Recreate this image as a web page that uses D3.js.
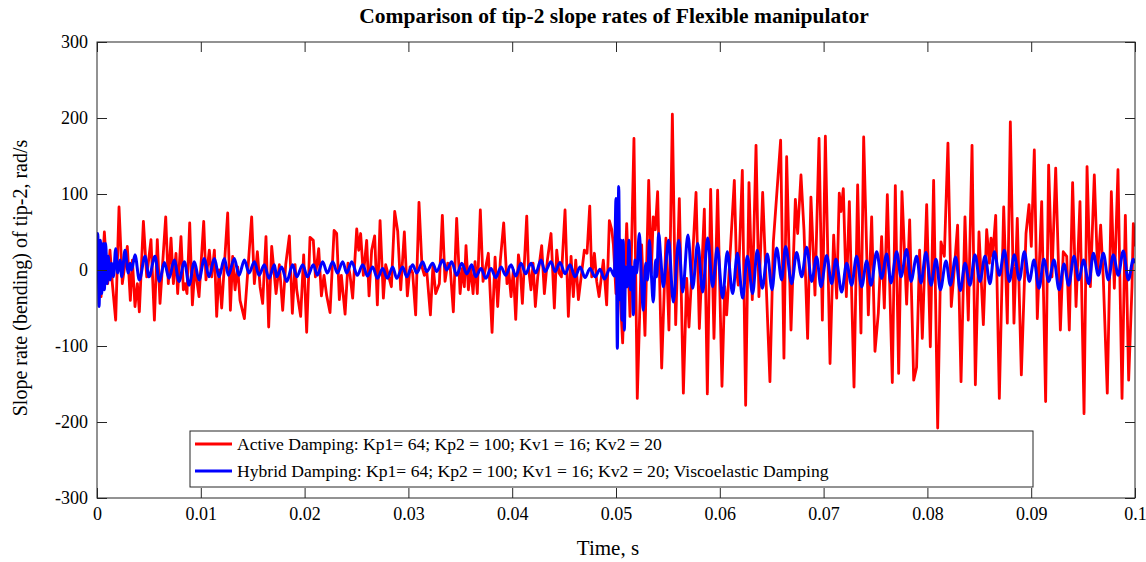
<!DOCTYPE html>
<html>
<head>
<meta charset="utf-8">
<script src="https://cdn.jsdelivr.net/npm/d3@7"></script>
<style>
  html, body { margin: 0; padding: 0; background: #fff; }
  svg { display: block; }
  text { font-family: "Liberation Serif", "Times New Roman", serif; fill: #000; }
</style>
</head>
<body>
<svg id="chart" width="1146" height="562"></svg>
<script>
// Tip-2 slope rate traces: [time in ms, slope rate in rad/s]
const activeDamping = [
  [0,5],[0.39,-35],[0.71,50],[1.03,-18],[1.25,26],[1.48,-18],[1.80,-66],[2.12,83],[2.44,-18],[2.92,31],
  [3.21,-40],[3.41,13],[3.66,-48],[3.89,-18],[4.08,-55],[4.47,64],[4.79,-9],[5.20,40],[5.53,-66],[5.81,40],
  [6.07,-44],[6.62,70],[6.87,-18],[7.13,42],[7.36,-18],[7.61,22],[7.77,-31],[8.09,44],[8.32,-26],[8.48,-18],
  [8.67,-31],[8.93,62],[9.19,-46],[9.44,4],[9.83,-35],[10.28,64],[10.50,-13],[10.82,26],[11.05,-9],[11.31,26],
  [11.53,-61],[11.76,0],[12.01,-50],[12.59,75],[12.85,-53],[13.07,18],[13.30,-26],[13.55,4],[13.78,-40],[14.20,-64],
  [14.90,70],[15.16,-18],[15.45,24],[15.71,-22],[15.96,-44],[16.28,44],[16.54,-75],[16.83,31],[17.25,-31],[17.57,7],
  [17.89,-53],[18.18,7],[18.53,45],[18.82,-57],[19.08,7],[19.24,-26],[19.62,-61],[19.91,20],[20.20,-82],[20.52,43],
  [20.84,39],[21.04,-9],[21.36,28],[21.62,-34],[21.87,-7],[22.13,-34],[22.45,-56],[22.84,52],[23.09,48],[23.35,-39],
  [23.54,-7],[23.90,-58],[24.18,9],[24.38,-7],[24.63,-37],[25.02,54],[25.21,26],[25.40,48],[25.66,-7],[25.98,39],
  [26.21,-34],[26.46,26],[26.75,45],[27.01,-46],[27.27,65],[27.59,-37],[27.81,7],[28.07,-7],[28.36,-22],[28.68,77],
  [28.97,51],[29.26,-26],[29.61,50],[29.90,-34],[30.16,4],[30.41,-4],[30.70,-59],[31.02,89],[31.31,4],[31.54,-7],
  [31.76,0],[32.12,-59],[32.37,7],[32.63,-31],[32.98,-18],[33.27,72],[33.53,-15],[33.79,9],[34.01,7],[34.33,-55],
  [34.65,68],[34.98,-31],[35.20,2],[35.39,-22],[35.55,32],[35.78,-26],[36.00,4],[36.23,-31],[36.42,11],[36.64,-31],
  [36.93,79],[37.19,-15],[37.70,22],[38.06,-82],[38.35,17],[38.60,-48],[38.86,13],[39.18,62],[39.50,-18],[39.66,0],
  [39.89,-35],[40.11,0],[40.34,-65],[40.60,20],[40.76,4],[40.98,-44],[41.40,71],[41.56,4],[41.81,-26],[42.01,9],
  [42.23,-48],[42.46,-9],[42.84,32],[43.10,-31],[43.39,13],[43.74,48],[44.06,-50],[44.29,26],[44.51,-4],[44.74,-9],
  [45.09,79],[45.41,-61],[45.67,18],[45.89,-35],[46.12,13],[46.38,-39],[46.95,26],[47.21,22],[47.47,84],[47.66,-9],
  [47.92,22],[48.14,-15],[48.37,-35],[48.78,13],[49.10,-46],[49.36,65],[49.59,53],[49.75,33],[50.00,-31],[50.25,8],
  [50.64,-96],[51.03,61],[51.35,-61],[51.73,173],[52.05,-169],[52.47,33],[52.79,-86],[53.15,118],[53.40,-4],[53.59,70],
  [53.79,53],[54.01,103],[54.40,-129],[54.81,42],[55.10,-79],[55.43,205],[55.75,-72],[56.10,94],[56.49,-162],[56.81,-11],
  [57.03,-75],[57.71,102],[58.03,-77],[58.51,80],[58.80,-163],[59.12,106],[59.44,-90],[59.79,105],[60.21,-153],[60.47,-22],
  [60.66,-59],[61.40,118],[61.62,0],[61.78,-20],[62.17,131],[62.49,-178],[62.81,115],[63.13,-39],[63.49,164],[63.77,-35],
  [64.13,102],[64.83,-147],[65.16,37],[65.86,171],[66.18,-116],[66.44,149],[66.86,-79],[67.28,93],[67.50,48],[67.82,125],
  [68.11,53],[68.46,-90],[68.78,96],[69.17,-33],[69.56,173],[69.88,-66],[70.17,176],[70.62,-123],[70.97,46],[71.26,-37],
  [71.51,101],[71.67,77],[71.90,107],[72.19,-35],[72.48,90],[72.93,-154],[73.28,112],[73.60,-83],[73.86,175],[74.31,-59],
  [74.63,70],[74.95,-107],[75.27,-57],[75.59,44],[75.85,-50],[76.14,99],[76.62,-148],[76.91,111],[77.23,-136],[77.55,103],
  [78.00,-45],[78.29,66],[78.68,-145],[78.96,-128],[79.25,26],[79.51,-90],[79.93,86],[80.28,-101],[80.60,118],[80.99,-208],
  [81.31,37],[81.63,18],[81.98,167],[82.30,-48],[82.59,1],[82.91,59],[83.24,-147],[83.62,70],[83.94,-66],[84.30,164],
  [84.62,-151],[84.97,50],[85.39,-72],[85.71,53],[85.97,9],[86.13,42],[86.29,18],[86.58,72],[86.93,-169],[87.35,83],
  [87.70,-70],[87.99,195],[88.34,-70],[88.66,68],[89.05,-138],[89.50,48],[89.79,86],[90.01,31],[90.30,158],[90.59,-64],
  [91.01,90],[91.39,-173],[91.68,138],[92.00,-9],[92.36,134],[92.81,-79],[93.09,24],[93.42,18],[93.67,-79],[93.99,115],
  [94.32,-48],[94.70,90],[95.09,-189],[95.38,136],[95.70,-22],[96.08,125],[96.40,-2],[96.69,59],[96.95,-13],[97.33,-162],
  [97.72,103],[98.01,-24],[98.36,132],[98.75,-169],[99.07,72],[99.39,-145],[99.71,-22],[99.84,61],[100.0,31]
];

const hybridDamping = [
  [0,0],[0.07,48],[0.20,-48],[0.32,39],[0.45,-31],[0.61,35],[0.71,-26],[0.84,35],[0.97,-18],[1.09,18],
  [1.25,-13],[1.42,9],[1.58,-9],[1.80,28],[1.99,-4],[2.22,13],[2.38,-9],[2.70,26],[3.02,-4],[3.18,9],
  [3.34,0],[3.66,20],[4.08,-13],[4.63,18],[5.01,-9],[5.59,18],[6.01,-15],[6.49,10],[6.94,-11],[7.45,13],
  [7.90,-15],[8.42,11],[8.87,-20],[9.38,11],[9.83,-13],[10.34,15],[10.79,-9],[11.31,15],[11.76,-9],[12.27,15],
  [12.66,-7],[13.23,15],[13.68,-7],[14.20,13],[14.65,-4],[15.16,11],[15.61,-7],[16.12,7],[16.57,-11],[17.09,7],
  [17.31,-9],[17.79,4],[18.28,-15],[18.85,7],[19.24,-9],[19.82,7],[20.27,-9],[20.84,7],[21.23,-7],[21.74,11],
  [22.19,-4],[22.71,11],[23.16,-4],[23.67,11],[24.06,-4],[24.54,11],[25.08,-7],[25.60,7],[26.05,-8],[26.56,4],
  [27.01,-11],[27.52,2],[27.97,-11],[28.49,4],[28.87,-11],[29.45,4],[29.84,-9],[30.41,7],[30.80,-4],[31.38,11],
  [31.76,-2],[32.34,9],[32.73,-2],[33.30,13],[33.69,0],[34.17,11],[34.65,-7],[35.14,9],[35.62,-5],[36.10,7],
  [36.48,-9],[37.00,2],[37.45,-11],[37.96,2],[38.41,-10],[38.93,4],[39.37,-7],[39.89,7],[40.34,-8],[40.85,9],
  [41.30,-5],[41.81,9],[42.26,-4],[42.78,13],[43.16,-2],[43.74,11],[44.13,-2],[44.61,10],[45.09,-5],[45.57,7],
  [46.05,-9],[46.54,4],[47.02,-10],[47.50,2],[47.98,-9],[48.46,1],[48.88,-12],[49.43,2],[49.84,-8],[50.00,94],
  [50.13,-103],[50.26,110],[50.38,-39],[50.48,39],[50.58,-66],[50.70,39],[50.80,-79],[50.93,4],[51.09,-22],[51.25,39],
  [51.41,-26],[51.54,4],[51.67,-59],[51.83,13],[51.99,-4],[52.25,48],[52.44,-9],[52.63,-53],[52.86,9],[53.05,-13],
  [53.21,39],[53.40,-4],[53.59,-42],[53.82,13],[53.92,-9],[54.11,48],[54.30,18],[54.56,-22],[54.81,9],[55.07,39],
  [55.52,-42],[56.04,39],[56.42,-29],[56.93,46],[57.38,-24],[57.87,35],[58.35,-29],[58.83,42],[59.31,-22],[59.76,29],
  [60.27,-37],[60.72,24],[61.24,-31],[61.69,22],[62.20,-37],[62.65,18],[63.16,-31],[63.61,26],[64.10,-24],[64.58,21],
  [65.03,-26],[65.48,29],[65.96,-13],[66.34,31],[66.92,-18],[67.40,23],[67.89,-9],[68.37,30],[68.85,-15],[69.33,17],
  [69.75,-22],[70.29,19],[70.78,-18],[71.19,14],[71.74,-29],[72.22,9],[72.70,-20],[73.18,18],[73.67,-22],[74.15,12],
  [74.57,-20],[75.11,24],[75.59,-11],[76.08,21],[76.49,-17],[77.04,24],[77.46,-9],[78.00,27],[78.42,-15],[78.96,18],
  [79.38,-17],[79.86,23],[80.35,-20],[80.83,14],[81.25,-26],[81.79,12],[82.21,-20],[82.72,17],[83.17,-27],[83.62,9],
  [84.10,-20],[84.58,20],[85.07,-15],[85.55,18],[86.03,-18],[86.45,24],[86.93,-7],[87.41,26],[87.89,-15],[88.37,20],
  [88.86,-13],[89.34,24],[89.82,-15],[90.27,13],[90.75,-24],[91.23,14],[91.68,-15],[92.20,13],[92.68,-26],[93.16,8],
  [93.61,-20],[94.12,18],[94.57,-13],[95.05,13],[95.54,-18],[95.99,22],[96.47,-7],[96.95,22],[97.43,-13],[97.91,20],
  [98.39,-7],[98.87,25],[99.36,-13],[99.84,14],[100.0,9]
];

const xTickValues = [0, 0.01, 0.02, 0.03, 0.04, 0.05, 0.06, 0.07, 0.08, 0.09, 0.1];
const xTickLabels = ["0", "0.01", "0.02", "0.03", "0.04", "0.05", "0.06", "0.07", "0.08", "0.09", "0.1"];
const yTickValues = [-300, -200, -100, 0, 100, 200, 300];
const yTickLabels = ["-300", "-200", "-100", "0", "100", "200", "300"];

const seriesNames = [
  "Active Damping: Kp1= 64; Kp2 = 100; Kv1 = 16; Kv2 = 20",
  "Hybrid Damping: Kp1= 64; Kp2 = 100; Kv1 = 16; Kv2 = 20; Viscoelastic Damping"
];
const seriesColors = ["#ff0000", "#0000ff"];

const titleText = "Comparison of tip-2 slope rates of Flexible manipulator";
const xLabelText = "Time, s";
const yLabelText = "Slope rate (bending) of tip-2, rad/s";

// ---- layout ----
const svg = d3.select("#chart");
const plot = { left: 97, top: 42, right: 1135, bottom: 498 };
const axisColor = "#262626";

const x = d3.scaleLinear().domain([0, 0.1]).range([plot.left, plot.right]);
const y = d3.scaleLinear().domain([-300, 300]).range([plot.bottom, plot.top]);

svg.append("defs").append("clipPath").attr("id", "plot-clip")
  .append("rect")
  .attr("x", plot.left).attr("y", plot.top)
  .attr("width", plot.right - plot.left).attr("height", plot.bottom - plot.top);

// ---- traces ----
const lineGen = d3.line()
  .x(d => x(d[0] / 1000))
  .y(d => y(d[1]));

const traces = svg.append("g").attr("clip-path", "url(#plot-clip)");
traces.append("path")
  .datum(activeDamping)
  .attr("fill", "none")
  .attr("stroke", seriesColors[0])
  .attr("stroke-width", 2.8)
  .attr("stroke-linejoin", "round")
  .attr("d", lineGen.curve(d3.curveLinear));
traces.append("path")
  .datum(hybridDamping)
  .attr("fill", "none")
  .attr("stroke", seriesColors[1])
  .attr("stroke-width", 3)
  .attr("stroke-linejoin", "round")
  .attr("d", lineGen.curve(d3.curveMonotoneX));

// ---- axes (ticks pointing inward, mirrored on top and right) ----
const tickLen = 10;
const fontTick = 18;

const xAxisBottom = d3.axisBottom(x).tickValues(xTickValues)
  .tickFormat((d, i) => xTickLabels[i]).tickSize(-tickLen).tickPadding(9);
const gxb = svg.append("g").attr("transform", `translate(0,${plot.bottom})`).call(xAxisBottom);

const xAxisTop = d3.axisTop(x).tickValues(xTickValues).tickFormat("").tickSize(-tickLen);
const gxt = svg.append("g").attr("transform", `translate(0,${plot.top})`).call(xAxisTop);

const yAxisLeft = d3.axisLeft(y).tickValues(yTickValues)
  .tickFormat((d, i) => yTickLabels[i]).tickSize(-tickLen).tickPadding(9);
const gyl = svg.append("g").attr("transform", `translate(${plot.left},0)`).call(yAxisLeft);

const yAxisRight = d3.axisRight(y).tickValues(yTickValues).tickFormat("").tickSize(-tickLen);
const gyr = svg.append("g").attr("transform", `translate(${plot.right},0)`).call(yAxisRight);

[gxb, gxt, gyl, gyr].forEach(g => {
  g.select(".domain").remove();
  g.selectAll(".tick line").attr("stroke", axisColor).attr("stroke-width", 1);
  g.selectAll(".tick text")
    .style("font-family", '"Liberation Serif", "Times New Roman", serif')
    .style("font-size", fontTick + "px")
    .attr("fill", "#000");
});

// plot frame
svg.append("rect")
  .attr("x", plot.left).attr("y", plot.top)
  .attr("width", plot.right - plot.left).attr("height", plot.bottom - plot.top)
  .attr("fill", "none").attr("stroke", axisColor).attr("stroke-width", 1);

// ---- titles ----
svg.append("text")
  .attr("x", 614).attr("y", 23)
  .attr("text-anchor", "middle")
  .style("font-size", "21.5px").style("font-weight", "bold")
  .text(titleText);

svg.append("text")
  .attr("x", 608).attr("y", 555)
  .attr("text-anchor", "middle")
  .style("font-size", "21px")
  .text(xLabelText);

svg.append("text")
  .attr("transform", `translate(27,${(plot.top + plot.bottom) / 2 + 8}) rotate(-90)`)
  .attr("text-anchor", "middle")
  .style("font-size", "20px")
  .text(yLabelText);

// ---- legend ----
const legend = svg.append("g");
const lg = { x: 190, y: 431, w: 843, h: 56 };
legend.append("rect")
  .attr("x", lg.x).attr("y", lg.y).attr("width", lg.w).attr("height", lg.h)
  .attr("fill", "#fff").attr("stroke", axisColor).attr("stroke-width", 1);

seriesNames.forEach((name, i) => {
  const cy = lg.y + 13 + i * 27;
  legend.append("line")
    .attr("x1", lg.x + 5).attr("x2", lg.x + 42)
    .attr("y1", cy).attr("y2", cy)
    .attr("stroke", seriesColors[i]).attr("stroke-width", i === 0 ? 2.8 : 3);
  legend.append("text")
    .attr("x", lg.x + 47).attr("y", cy)
    .attr("dy", "0.35em")
    .style("font-size", "17.6px")
    .text(name);
});
</script>
</body>
</html>
